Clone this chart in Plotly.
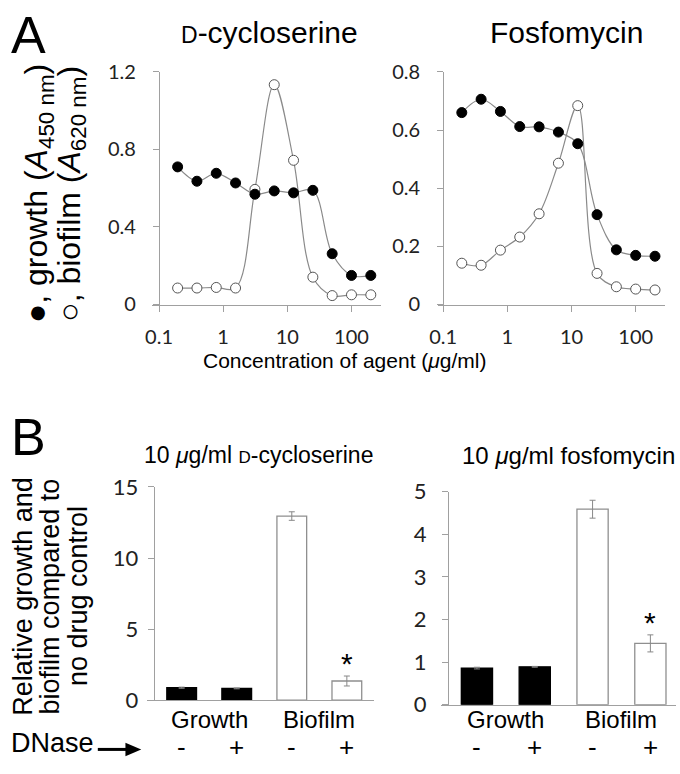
import plotly.graph_objects as go

# ---------------- data ----------------
conc = [0.195, 0.39, 0.78, 1.56, 3.125, 6.25, 12.5, 25, 50, 100, 200]
dcs_growth = [0.71, 0.636, 0.677, 0.627, 0.569, 0.586, 0.576, 0.589, 0.262, 0.15, 0.15]
dcs_biofilm = [0.085, 0.085, 0.088, 0.085, 0.594, 1.134, 0.744, 0.141, 0.046, 0.05, 0.05]
fos_growth = [0.66, 0.706, 0.664, 0.612, 0.611, 0.593, 0.553, 0.309, 0.188, 0.169, 0.166]
fos_biofilm = [0.142, 0.135, 0.187, 0.232, 0.312, 0.486, 0.684, 0.107, 0.061, 0.053, 0.050]

x_ticks = [0.1, 1, 10, 100]
x_tick_text = ["0.1", "1", "10", "100"]

bar_groups = ["Growth", "Biofilm"]
dnase = ["-", "+", "-", "+"]
dcs_rel = [0.88, 0.83, 12.95, 1.35]
dcs_err = [0.04, 0.03, 0.30, 0.35]
fos_rel = [0.86, 0.89, 4.59, 1.44]
fos_err = [0.02, 0.01, 0.21, 0.20]
significant = [False, False, False, True]

# ---------------- helpers ----------------
W, H = 680, 774
def px(p):
    return p / W
def py(p):
    return 1 - p / H

LAB = "Liberation Sans, Arial, sans-serif"
TICK = "Lato, Liberation Sans, sans-serif"
AX = "#a0a0a0"
LINE = "#8a8a8a"

fig = go.Figure()

def add_curve(xa, ya, y, filled):
    fig.add_trace(go.Scatter(
        x=conc, y=y, xaxis=xa, yaxis=ya, mode="lines+markers",
        line=dict(color=LINE, width=1.2, shape="spline", smoothing=1.0),
        marker=dict(size=10, color="black" if filled else "white",
                    line=dict(color="black" if filled else "#555555", width=1)),
        cliponaxis=False, hoverinfo="skip"))

add_curve("x", "y", dcs_biofilm, False)
add_curve("x", "y", dcs_growth, True)
add_curve("x2", "y2", fos_biofilm, False)
add_curve("x2", "y2", fos_growth, True)

pos = list(range(len(dnase)))
bar_colors = ["black", "black", "white", "white"]
bar_lines = ["black", "black", "#8f8f8f", "#8f8f8f"]

def add_bars(xa, ya, vals, errs):
    fig.add_trace(go.Bar(
        x=pos, y=vals, xaxis=xa, yaxis=ya, width=0.54,
        marker=dict(color=bar_colors, line=dict(color=bar_lines, width=1.3)),
        error_y=dict(type="data", array=errs, visible=True, color="#888888",
                     thickness=1, width=3),
        hoverinfo="skip"))

add_bars("x3", "y3", dcs_rel, dcs_err)
add_bars("x4", "y4", fos_rel, fos_err)

axis_common = dict(showline=True, linecolor=AX, linewidth=1.2, ticks="outside",
                   tickcolor=AX, ticklen=6, tickwidth=1, showgrid=False,
                   zeroline=False, mirror=False)

top_y = [py(301), py(60)]
fig.update_layout(
    width=W, height=H, margin=dict(l=0, r=0, t=0, b=0),
    paper_bgcolor="white", plot_bgcolor="white", showlegend=False,
    xaxis=dict(domain=[px(145), px(377)], type="log", range=[-1.108, 2.46],
               tickvals=x_ticks, ticktext=x_tick_text, anchor="y", ticklabelstandoff=8,
               tickfont=dict(family=TICK, size=20, color="#222"), **axis_common),
    yaxis=dict(domain=top_y, range=[0, 1.2], tickvals=[0, 0.4, 0.8, 1.2],
               ticktext=["0", "0.4", "0.8", "1.2"], anchor="free", position=px(152),
               ticklabelstandoff=13,
               tickfont=dict(family=TICK, size=20, color="#222"), **axis_common),
    xaxis2=dict(domain=[px(435), px(665)], type="log", range=[-1.077, 2.46],
                tickvals=x_ticks, ticktext=x_tick_text, anchor="y2", ticklabelstandoff=8,
                tickfont=dict(family=TICK, size=20, color="#222"), **axis_common),
    yaxis2=dict(domain=top_y, range=[0, 0.8], tickvals=[0, 0.2, 0.4, 0.6, 0.8],
                ticktext=["0", "0.2", "0.4", "0.6", "0.8"], anchor="free", position=px(440),
                ticklabelstandoff=13,
                tickfont=dict(family=TICK, size=20, color="#222"), **axis_common),
    xaxis3=dict(domain=[px(140), px(370)], range=[-0.627, 3.495], anchor="y3",
                showticklabels=False, showline=True, linecolor=AX, linewidth=1.2,
                ticks="", showgrid=False, zeroline=False),
    yaxis3=dict(domain=[py(711), py(490)], range=[0, 15], tickvals=[0, 5, 10, 15],
                anchor="free", position=px(146.7), ticklabelstandoff=5,
                tickfont=dict(family=TICK, size=22, color="#222"), **axis_common),
    xaxis4=dict(domain=[px(438), px(676)], range=[-0.618, 3.444], anchor="y4",
                showticklabels=False, showline=True, linecolor=AX, linewidth=1.2,
                ticks="", showgrid=False, zeroline=False),
    yaxis4=dict(domain=[py(715.7), py(495)], range=[0, 5], tickvals=[0, 1, 2, 3, 4, 5],
                anchor="free", position=px(445), ticklabelstandoff=11,
                tickfont=dict(family=TICK, size=22, color="#222"), **axis_common),
)

ann = []
def text(x, y, t, size, angle=0, family=LAB, xanchor="center", yanchor="middle",
         xref="paper", yref="paper", yshift=0):
    ann.append(dict(x=x, y=y, text=t, showarrow=False, xref=xref, yref=yref,
                    xanchor=xanchor, yanchor=yanchor, textangle=angle, yshift=yshift,
                    font=dict(family=family, size=size, color="black")))

# panel letters
text(px(0), py(22), "A", 52, xanchor="left")
text(px(0), py(438), "B", 52, xanchor="left")

# top titles
text(px(264), py(19), '<span style="font-size:23px">D</span>-cycloserine', 30)
text(px(565), py(19), "Fosfomycin", 30)

# x title
text(px(341), py(359), "Concentration of agent (<i>μ</i>g/ml)", 21)

# top y label (two separate lines)
text(px(30), py(186), "●, growth (<i>A</i><sub>450 nm</sub>)", 32, angle=-90)
text(px(63), py(186), "○, biofilm (<i>A</i><sub>620 nm</sub>)", 32, angle=-90)

# bottom titles
text(px(253), py(457), '10 <i>μ</i>g/ml <span style="font-size:17px">D</span>-cycloserine', 23)
text(px(567), py(457), "10 <i>μ</i>g/ml fosfomycin", 24)

# bottom y label
for xc, t in zip([14, 42, 70], ["Relative growth and", "biofilm compared to", "no drug control"]):
    text(px(xc), py(603), t, 27, angle=-90)

# group labels, DNase signs, asterisks
for xa, vals, errs in [("x3", dcs_rel, dcs_err), ("x4", fos_rel, fos_err)]:
    for gi, g in enumerate(bar_groups):
        text(2 * gi + 0.5, py(731), g, 24, xref=xa)
    for i, s in enumerate(dnase):
        text(pos[i], py(760), s, 26, xref=xa)
    ya = "y3" if xa == "x3" else "y4"
    for i, sig in enumerate(significant):
        if sig:
            text(pos[i], vals[i] + errs[i], "*", 30, xref=xa, yref=ya,
                 yanchor="bottom", yshift=-6)

text(px(0), py(755), "DNase", 27, xanchor="left")
fig.update_layout(annotations=ann)

# arrow after "DNase"
fig.add_shape(type="line", xref="paper", yref="paper", x0=px(90), x1=px(120),
              y0=py(762), y1=py(762), line=dict(color="black", width=3))
fig.add_shape(type="path", xref="paper", yref="paper",
              path=f"M {px(118)} {py(755)} L {px(134)} {py(762)} L {px(118)} {py(769)} Z",
              fillcolor="black", line=dict(color="black", width=0))

fig.write_html("out.html", config={"displayModeBar": False},
               post_script="document.body.style.margin='0';document.body.style.overflow='hidden';")
